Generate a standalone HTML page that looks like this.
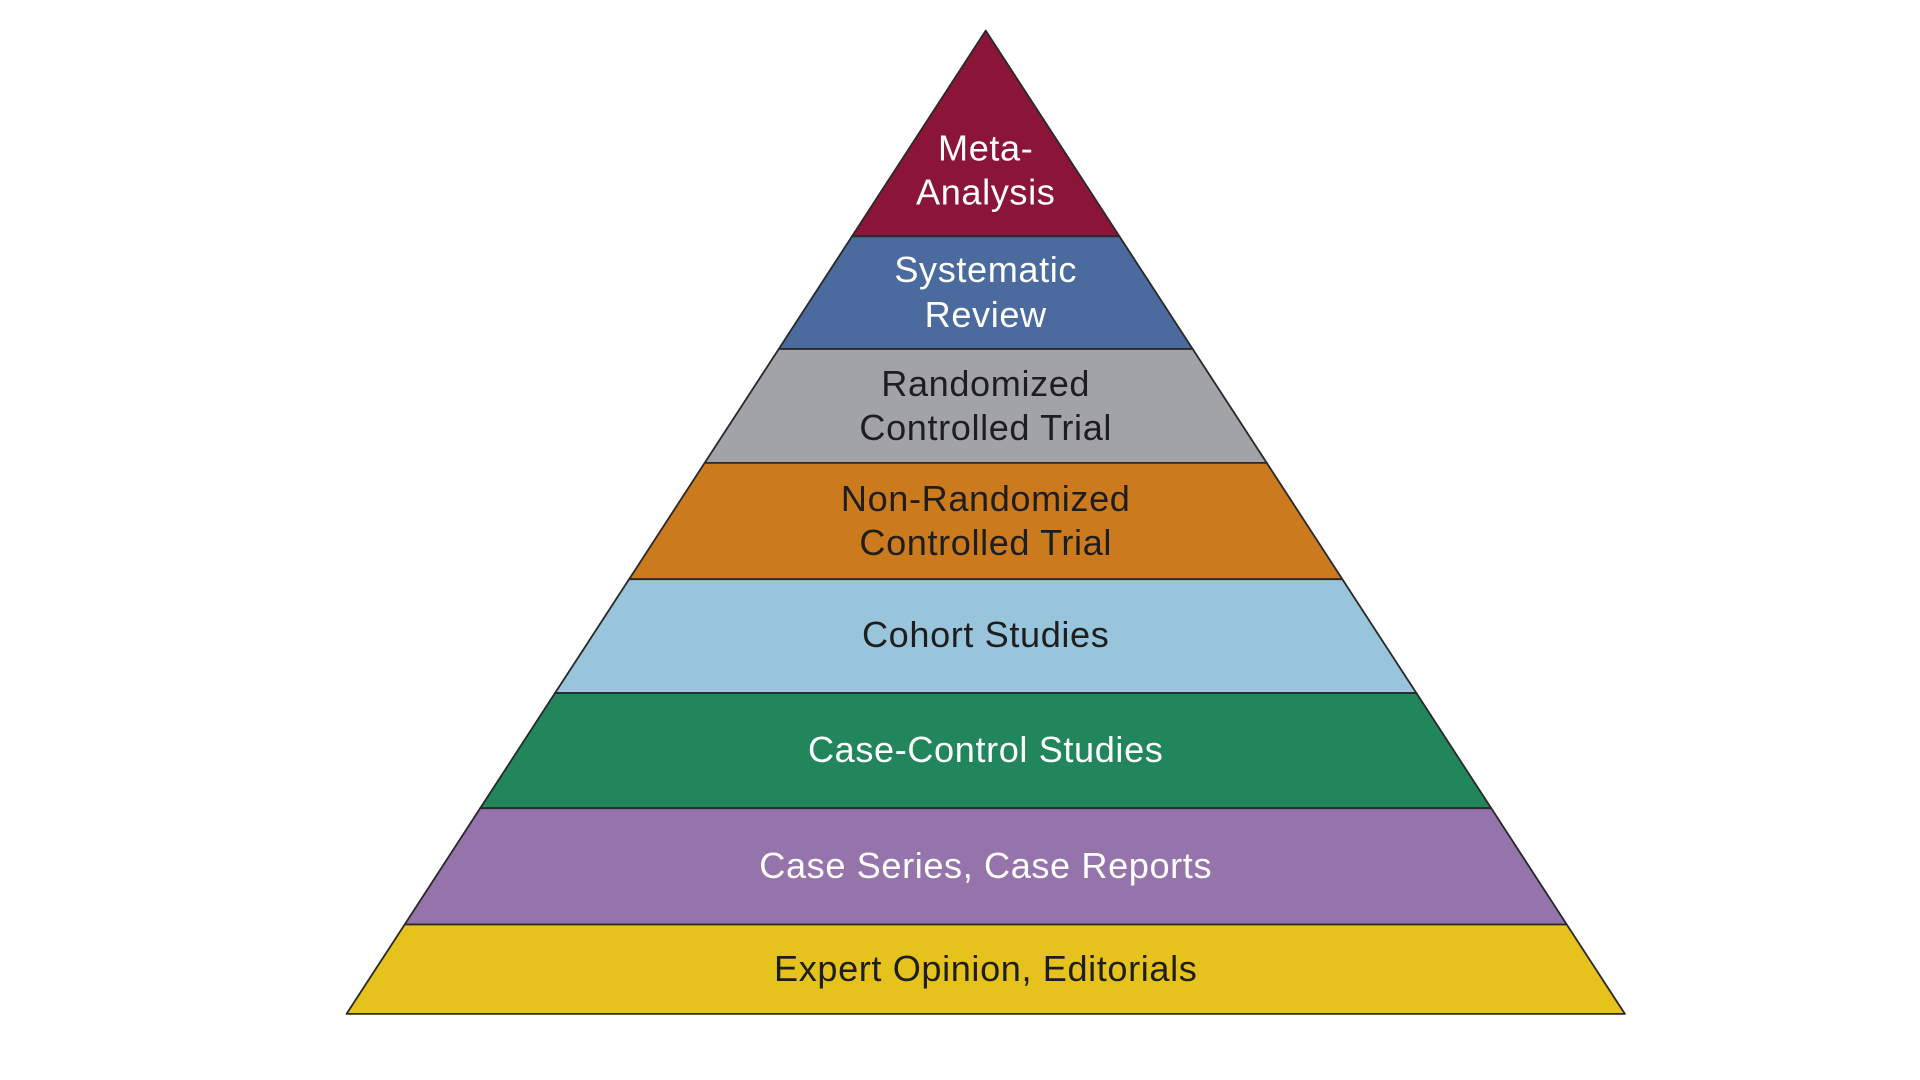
<!DOCTYPE html>
<html><head><meta charset="utf-8"><style>html,body{margin:0;padding:0;background:#fff;width:1920px;height:1080px;overflow:hidden}svg{display:block}</style></head>
<body>
<svg width="1920" height="1080" viewBox="0 0 1568 882" xmlns="http://www.w3.org/2000/svg" font-family="'Liberation Sans', Arial, sans-serif" font-size="29.5" letter-spacing="0.5" text-anchor="middle" dominant-baseline="central">
<g stroke="#2a2a2a" stroke-width="1.5" stroke-linejoin="round">
<polygon points="805,25 914.2,193 695.8,193" fill="#8b1538"/>
<polygon points="695.8,193 914.2,193 974,285 636,285" fill="#4b6b9e"/>
<polygon points="636,285 974,285 1034.5,378 575.5,378" fill="#a2a3a6"/>
<polygon points="575.5,378 1034.5,378 1096.2,473 513.8,473" fill="#cc7a1e"/>
<polygon points="513.8,473 1096.2,473 1156.7,566 453.3,566" fill="#98c5dc"/>
<polygon points="453.3,566 1156.7,566 1217.8,660 392.2,660" fill="#21865c"/>
<polygon points="392.2,660 1217.8,660 1279.5,755 330.5,755" fill="#9474ab"/>
<polygon points="330.5,755 1279.5,755 1327,828 283,828" fill="#e6c21c"/>
</g>
<g fill="#fff">
<text x="805" y="121">Meta-</text><text x="805" y="157">Analysis</text>
<text x="805" y="220">Systematic</text><text x="805" y="257">Review</text>
</g>
<g fill="#1e1e1e">
<text x="805" y="313">Randomized</text><text x="805" y="349">Controlled Trial</text>
<text x="805" y="407">Non-Randomized</text><text x="805" y="443">Controlled Trial</text>
<text x="805" y="518">Cohort Studies</text>
</g>
<text x="805" y="612" fill="#fff">Case-Control Studies</text>
<text x="805" y="707" fill="#fff">Case Series, Case Reports</text>
<text x="805" y="791" fill="#1e1e1e">Expert Opinion, Editorials</text>
</svg>
</body></html>
